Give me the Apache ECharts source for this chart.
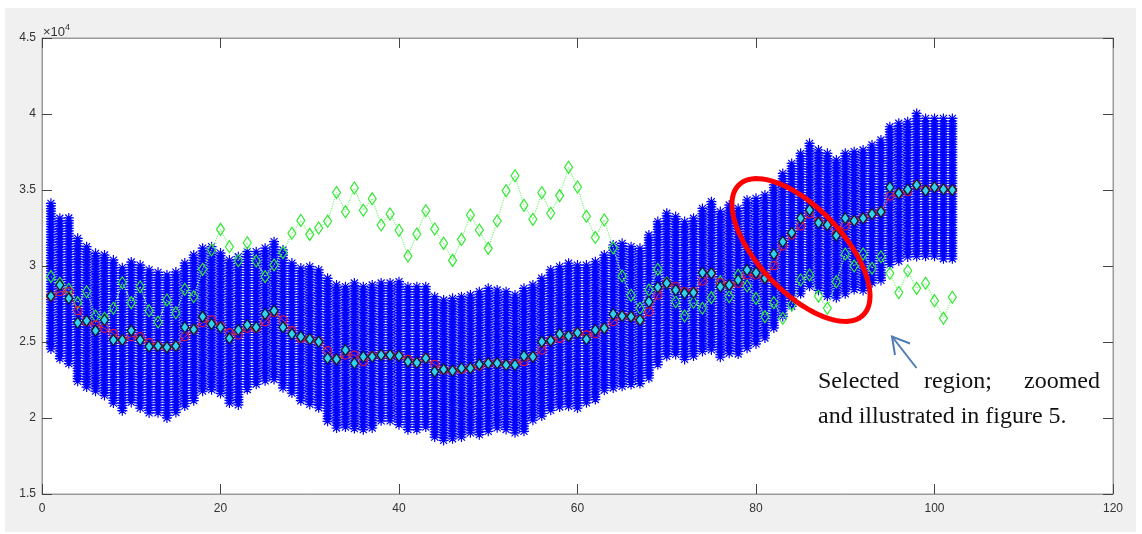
<!DOCTYPE html>
<html><head><meta charset="utf-8">
<script src="https://cdn.jsdelivr.net/npm/echarts@6/dist/echarts.min.js"></script>
<style>html,body{margin:0;padding:0;background:#fff}
#bg{position:absolute;left:5px;top:8px;width:1131px;height:524px;background:#f0f0f0}
#c{position:absolute;left:0;top:0;width:1142px;height:534px}</style>
</head><body><div id="bg"></div><div id="c"></div><script>
const xIndex = [1,2,3,4,5,6,7,8,9,10,11,12,13,14,15,16,17,18,19,20,21,22,23,24,25,26,27,28,29,30,31,32,33,34,35,36,37,38,39,40,41,42,43,44,45,46,47,48,49,50,51,52,53,54,55,56,57,58,59,60,61,62,63,64,65,66,67,68,69,70,71,72,73,74,75,76,77,78,79,80,81,82,83,84,85,86,87,88,89,90,91,92,93,94,95,96,97,98,99,100,101,102];
const blueHigh = [34450,33470,33490,32150,31600,31160,31050,30720,30220,30590,30390,30070,29910,29740,29930,30520,31050,31500,31600,31180,30720,30940,31270,31270,31500,31930,31380,30520,30190,30290,30070,29520,29080,28970,29210,28970,29080,29210,29210,29300,28970,28970,28970,28310,28090,28200,28310,28420,28640,28860,28750,28640,28420,28860,29080,29520,30070,30290,30510,30390,30390,30610,31050,31710,31820,31600,31490,32370,33250,33800,33580,33250,33470,34120,34560,33910,34340,34120,34670,34780,35000,35660,36420,37080,37740,38400,37960,37740,37300,37740,37850,37960,38290,38620,39490,39720,39820,40370,40040,40040,40040,40040];
const blueLow = [24140,23490,23160,22060,21640,21310,20990,20530,20000,20530,20200,20000,19870,19670,19870,20330,20740,21310,21510,21180,20530,20530,21400,21730,22060,22170,21640,21180,20740,20530,20330,19340,18880,19010,18880,18770,19010,19340,19340,19210,18770,18770,19010,18350,18110,18220,18350,18550,18550,18770,18880,18770,18550,18770,19430,19650,20080,20310,20310,20310,20640,20860,21400,21620,21620,21840,21840,22280,23050,23600,23820,23380,23600,24030,24030,23600,23820,23820,24260,24470,24910,25570,26230,26890,27760,28200,27980,27540,27430,27760,27980,27980,28420,28640,29740,29850,30180,30290,30180,30180,30070,30070];
const redMean = [28000,28310,28310,27060,26340,26120,25900,25570,25130,25350,25350,24960,24740,24650,24740,25350,25830,26270,26450,26050,25610,25460,25900,25900,26340,26930,26450,25750,25240,25180,25020,24430,23860,24140,24140,23710,24080,24140,24140,24080,23860,23640,23930,23530,23160,23110,23200,23270,23420,23600,23600,23490,23600,23710,24030,24470,25090,25240,25390,25610,25460,25550,25900,26340,26710,26670,26450,26990,28090,28860,28640,28310,28310,29010,29520,28900,28750,28860,29410,29410,29200,30020,31320,32040,32630,33420,32920,32700,32100,32630,32980,33140,33420,33570,34600,34780,34890,35330,35000,35180,35050,35000];
const cyanEst = [28020,28750,27870,26270,26400,25750,26450,25130,25130,25750,25130,24700,24740,24650,24740,25970,25830,26670,26180,25970,25240,25790,26120,25970,26840,27060,25970,25530,25350,25180,25020,23930,23860,24470,23600,24030,24030,24140,24140,24080,23710,23640,23930,23050,23200,23110,23270,23270,23530,23600,23600,23490,23490,24080,24030,25020,25090,25530,25390,25610,25180,25790,25900,26840,26710,26670,26450,27650,28600,28860,28420,28200,28250,29560,29520,28640,28750,29080,29740,29560,29200,30790,31600,32190,33140,33680,32850,32700,32000,33140,32980,33140,33420,33570,35180,34780,35030,35330,34960,35180,35050,35000];
const greenObs = [29300,28860,28470,27590,28310,26710,26560,27220,28900,27590,28640,27060,26320,27760,26930,28470,27980,29780,31050,32410,31270,30350,31530,30330,29300,30070,30880,32150,33000,32080,32500,32950,34840,33570,35130,33670,34430,32700,33420,32350,30660,32100,33640,32430,31490,30370,31750,33360,32370,31160,32960,34950,35940,33990,33070,34820,33470,34630,36490,35200,33270,31880,33030,31180,29340,28070,27220,28420,29780,28900,27650,26710,27610,27220,27920,28970,27980,29410,28680,27870,26670,27590,26560,27430,29080,29410,28020,27220,28970,30790,30000,30790,29850,30610,29520,28250,29690,28530,28860,27720,26560,27940];
const yTickLabels = {15000:'1.5',20000:'2',25000:'2.5',30000:'3',35000:'3.5',40000:'4',45000:'4.5'};
const annotationLines = ['Selected', 'region;', 'zoomed', 'and illustrated in figure 5.'];

const chart = echarts.init(document.getElementById('c'), null, {renderer:'canvas'});
const pair = arr => xIndex.map((x, i) => [x, arr[i]]);

function renderStars(params, api) {
  const x = api.value(0), lo = api.value(1), hi = api.value(2);
  const pt = api.coord([x, hi]), pb = api.coord([x, lo]);
  const r = 5, d = 3.5, step = 2.6;
  const cx = pt[0];
  let p = '';
  for (let y = pt[1] + r; y <= pb[1] - r + 0.01; y += step) {
    p += 'M' + (cx - r) + ' ' + y + 'L' + (cx + r) + ' ' + y +
         'M' + cx + ' ' + (y - r) + 'L' + cx + ' ' + (y + r) +
         'M' + (cx - d) + ' ' + (y - d) + 'L' + (cx + d) + ' ' + (y + d) +
         'M' + (cx - d) + ' ' + (y + d) + 'L' + (cx + d) + ' ' + (y - d);
  }
  return {type:'path', shape:{pathData:p}, style:{stroke:'#0000ff', lineWidth:1.2, fill:null}};
}

const axisCommon = {
  axisLine:{show:true, onZero:false, lineStyle:{color:'#9a9a9a', width:1}},
  axisTick:{show:true, inside:true, length:10, lineStyle:{color:'#444'}},
  splitLine:{show:false}
};
const labelStyle = {color:'#333', fontSize:12, fontFamily:'Liberation Sans, Arial, sans-serif'};

// ellipse annotation
const ell = [];
const ecx = 801, ecy = 250, ea = 90, eb = 42, th = 46.5 * Math.PI / 180;
for (let k = 0; k <= 96; k++) {
  const t = k / 96 * Math.PI * 2;
  ell.push([ecx + ea*Math.cos(t)*Math.cos(th) - eb*Math.sin(t)*Math.sin(th),
            ecy + ea*Math.cos(t)*Math.sin(th) + eb*Math.sin(t)*Math.cos(th)]);
}
const serif = '24px "Liberation Serif", "Times New Roman", serif';

chart.setOption({
  backgroundColor:'transparent',
  animation:false,
  grid:{left:42, top:38, width:1071, height:456, show:true, backgroundColor:'#fff', borderColor:'#9a9a9a', borderWidth:1},
  xAxis:[
    Object.assign({type:'value', min:0, max:120, interval:20, position:'bottom',
      axisLabel:Object.assign({margin:9}, labelStyle)}, axisCommon),
    Object.assign({type:'value', min:0, max:120, interval:20, position:'top',
      axisLabel:{show:false}}, axisCommon)
  ],
  yAxis:[
    Object.assign({type:'value', min:15000, max:45000, interval:5000, position:'left',
      axisLabel:Object.assign({margin:6, formatter:v => yTickLabels[v] || ''}, labelStyle)}, axisCommon),
    Object.assign({type:'value', min:15000, max:45000, interval:5000, position:'right',
      axisLabel:{show:false}}, axisCommon)
  ],
  series:[
    {type:'custom', renderItem:renderStars, xAxisIndex:0, yAxisIndex:0, z:2,
     encode:{x:0, y:[1,2]}, data:xIndex.map((x,i)=>[x, blueLow[i], blueHigh[i]])},
    {type:'line', data:pair(greenObs), z:3, symbol:'diamond', symbolSize:[8,12],
     itemStyle:{color:'transparent', borderColor:'#2ee82e', borderWidth:1.2},
     lineStyle:{color:'#7cf77c', width:1.2, type:'dotted'}},
    {type:'line', data:pair(redMean), z:4, symbol:'circle', symbolSize:8,
     itemStyle:{color:'transparent', borderColor:'#d8163c', borderWidth:1.3},
     lineStyle:{color:'#e0304a', width:1}},
    {type:'line', data:pair(cyanEst), z:5, symbol:'diamond', symbolSize:[8,11],
     itemStyle:{color:'#2fd0f2', borderColor:'#0d1a30', borderWidth:1.3},
     lineStyle:{color:'#2fd0f2', width:1, type:'dotted', opacity:0.7}}
  ],
  graphic:[
    {type:'text', left:43, top:23, z:100, style:{
      text:'{a|×10}{b|4}', rich:{a:{fontSize:13, fill:'#333', fontFamily:'Liberation Sans', verticalAlign:'bottom', lineHeight:16},
                             b:{fontSize:9, fill:'#333', fontFamily:'Liberation Sans', verticalAlign:'top', lineHeight:10}}}},
    {type:'polygon', z:100, shape:{points:ell}, style:{fill:null, stroke:'#ff0000', lineWidth:5}},
    {type:'polyline', z:100, shape:{points:[[916.5,368],[892,336.5]]}, style:{stroke:'#4f7db3', lineWidth:2, fill:null}},
    {type:'polyline', z:100, shape:{points:[[910,343.5],[892,336.5],[895,355]]}, style:{stroke:'#4f7db3', lineWidth:2, fill:null}},
    {type:'text', z:100, x:818, y:382, style:{text:annotationLines[0], font:serif, fill:'#111', verticalAlign:'middle'}},
    {type:'text', z:100, x:924, y:382, style:{text:annotationLines[1], font:serif, fill:'#111', verticalAlign:'middle'}},
    {type:'text', z:100, x:1100, y:382, style:{text:annotationLines[2], font:serif, fill:'#111', align:'right', verticalAlign:'middle'}},
    {type:'text', z:100, x:818, y:417, style:{text:annotationLines[3], font:serif, fill:'#111', verticalAlign:'middle'}}
  ]
});
</script></body></html>
